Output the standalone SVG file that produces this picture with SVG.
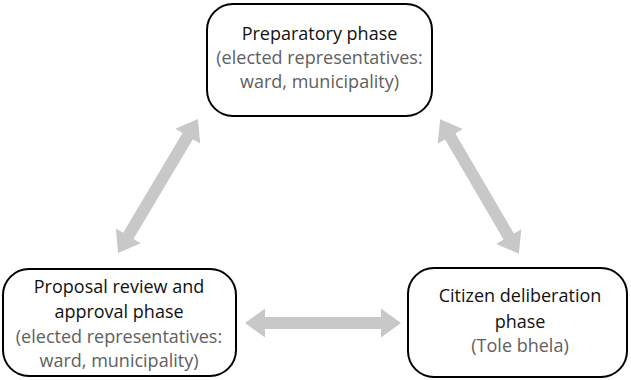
<svg xmlns="http://www.w3.org/2000/svg" width="631" height="380" viewBox="0 0 631 380">
<defs>
<style>
.box{fill:#fff;stroke:#000;stroke-width:2}
.t{font-family:"Open Sans","Noto Sans","Liberation Sans",sans-serif;font-size:18px;text-anchor:middle;fill:#111}
.s{fill:#606060}
.arr{fill:#c8c8c8}
</style>
<path id="dbl" d="M-78 0 L-58 -14.5 L-58 -6 L58 -6 L58 -14.5 L78 0 L58 14.5 L58 6 L-58 6 L-58 14.5 Z"/>
</defs>
<rect width="631" height="380" fill="#fff"/>
<g id="connectors" class="arr">
<use href="#dbl" transform="translate(158,186) rotate(-59.2)"/>
<use href="#dbl" transform="translate(479.5,186.5) rotate(59.7)"/>
<use href="#dbl" transform="translate(323,323)"/>
</g>
<g id="preparatory">
<rect class="box" x="207" y="4" width="225" height="112" rx="26"/>
<text class="t" x="319.5" y="40">Preparatory phase</text>
<text class="t s" x="319.5" y="64">(elected representatives:</text>
<text class="t s" x="319.5" y="88">ward, municipality)</text>
</g>
<g id="proposal">
<rect class="box" x="3" y="269" width="233" height="107" rx="26"/>
<text class="t" x="119" y="293">Proposal review and</text>
<text class="t" x="119" y="318">approval phase</text>
<text class="t s" x="119" y="343">(elected representatives:</text>
<text class="t s" x="119" y="367">ward, municipality)</text>
</g>
<g id="citizen">
<rect class="box" x="408" y="268" width="219" height="109" rx="26"/>
<text class="t" x="520" y="302">Citizen deliberation</text>
<text class="t" x="520" y="328">phase</text>
<text class="t s" x="520" y="352">(Tole bhela)</text>
</g>
</svg>
